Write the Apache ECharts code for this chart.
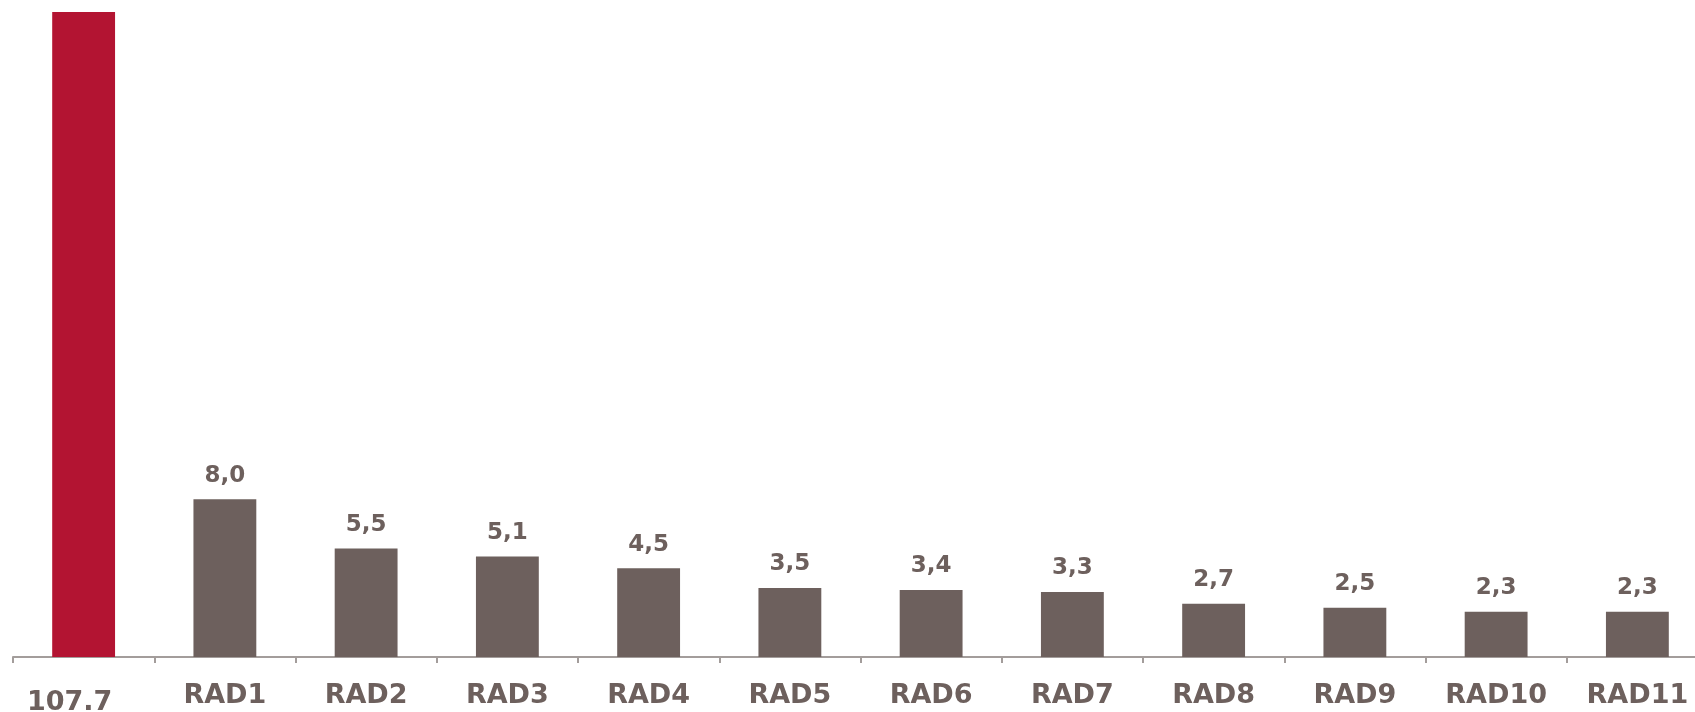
<!DOCTYPE html>
<html>
<head>
<meta charset="utf-8">
<script src="https://cdn.jsdelivr.net/npm/echarts@6/dist/echarts.min.js"></script>
<style>html,body{margin:0;padding:0;background:#fff}#c{width:1695px;height:712px}</style>
</head>
<body>
<div id="c"></div>
<script>
const categories = ['107.7','RAD1','RAD2','RAD3','RAD4','RAD5','RAD6','RAD7','RAD8','RAD9','RAD10','RAD11'];
const values = [107.7, 8.0, 5.5, 5.1, 4.5, 3.5, 3.4, 3.3, 2.7, 2.5, 2.3, 2.3];
const highlightIndex = 0;

const RED = '#B31432';
const GREY = '#6D605D';
const chart = echarts.init(document.getElementById('c'));
chart.setOption({
  animation: false,
  grid: {left: 13, right: -13, top: 12, bottom: 55, containLabel: false, outerBoundsMode: 'none'},
  xAxis: {
    type: 'category',
    data: categories,
    axisLine: {lineStyle: {color: '#A39D9B', width: 2}},
    axisTick: {show: true, length: 6, lineStyle: {color: '#A39D9B', width: 2}},
    axisLabel: {
      interval: 0,
      margin: 25,
      color: GREY,
      fontFamily: 'DejaVu Sans',
      fontWeight: 'bold',
      fontSize: 27,
      formatter: (v, i) => i === highlightIndex ? '{first|' + v + '}' : v,
      rich: {first: {padding: [7, 28, 0, 0], color: GREY, fontFamily: 'DejaVu Sans', fontWeight: 'bold', fontSize: 27}}
    }
  },
  yAxis: {type: 'value', min: 0, max: 32.7, show: false, splitLine: {show: false}},
  series: [{
    type: 'bar',
    barWidth: '44.5%',
    clip: true,
    data: values.map((v, i) => ({
      value: v,
      itemStyle: {color: i === highlightIndex ? RED : GREY},
      label: {show: i !== highlightIndex}
    })),
    label: {
      position: 'top',
      distance: 12,
      color: GREY,
      fontFamily: 'DejaVu Sans',
      fontWeight: 'bold',
      fontSize: 23,
      formatter: p => p.value.toFixed(1).replace('.', ',')
    }
  }]
});
</script>
</body>
</html>
